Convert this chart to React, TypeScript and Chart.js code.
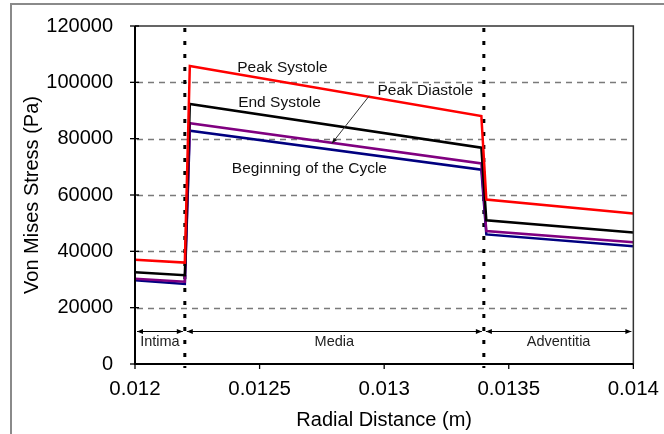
import { useEffect, useRef } from 'react';
import { Chart, registerables } from 'chart.js';

Chart.register(...registerables);

// Radial positions through the arterial wall (m)
const radialDistance = [0.012, 0.0122, 0.01222, 0.01339, 0.01341, 0.014];

// Von Mises stress (Pa) at each radial position, per cardiac phase
const peakSystole = [37000, 36000, 105800, 88000, 58400, 53400];
const endSystole = [32600, 31500, 92300, 76800, 51000, 46700];
const peakDiastole = [30300, 29200, 85500, 71200, 47200, 43200];
const beginningOfCycle = [29700, 28400, 82800, 69000, 46000, 41800];

const xTicks = [0.012, 0.0125, 0.013, 0.0135, 0.014];
const yTicks = [0, 20000, 40000, 60000, 80000, 100000, 120000];

// Wall layers and their boundaries
const layerBounds = [0.012, 0.0122, 0.0134, 0.014];
const layerNames = ['Intima', 'Media', 'Adventitia'];

const seriesNames = ['Peak Systole', 'End Systole', 'Peak Diastole', 'Beginning of the Cycle'];
const seriesColors = ['#ff0000', '#000000', '#800080', '#000080'];
// Label anchor points in data units (x, y)
const labelAnchors = [
  [0.012592, 105100],
  [0.01258, 92800],
  [0.013165, 97000],
  [0.0127, 69400],
];

const FONT = '"Liberation Sans", Arial, sans-serif';

const toPoints = (ys: number[]) => radialDistance.map((x, i) => ({ x, y: ys[i] }));

const decorPlugin = {
  id: 'wallDecor',
  beforeDatasetsDraw(chart: any) {
    const { ctx, chartArea: a, scales } = chart;
    const xs = scales.x;
    const ys = scales.y;
    ctx.save();
    // dashed grid lines
    ctx.strokeStyle = '#7a7a7a';
    ctx.lineWidth = 1.3;
    ctx.setLineDash([6, 5]);
    yTicks.slice(1, -1).forEach((v) => {
      const py = Math.round(ys.getPixelForValue(v)) + 0.5;
      ctx.beginPath();
      ctx.moveTo(a.left + 2, py);
      ctx.lineTo(a.right - 3, py);
      ctx.stroke();
    });
    // layer boundaries
    ctx.strokeStyle = '#000';
    ctx.lineWidth = 3;
    ctx.setLineDash([4, 9]);
    [layerBounds[1], layerBounds[2]].forEach((v) => {
      const px = xs.getPixelForValue(v);
      ctx.beginPath();
      ctx.moveTo(px, a.top + 2);
      ctx.lineTo(px, a.bottom + 4);
      ctx.stroke();
    });
    ctx.setLineDash([]);
    // layer span arrows
    const ay = a.bottom - 32.5;
    ctx.lineWidth = 1;
    ctx.strokeStyle = '#000';
    ctx.fillStyle = '#000';
    for (let i = 0; i < layerNames.length; i++) {
      const x0 = xs.getPixelForValue(layerBounds[i]) + 2;
      const x1 = xs.getPixelForValue(layerBounds[i + 1]) - 2;
      ctx.beginPath();
      ctx.moveTo(x0, ay);
      ctx.lineTo(x1, ay);
      ctx.stroke();
      for (const [tip, dir] of [[x0, 1], [x1, -1]]) {
        ctx.beginPath();
        ctx.moveTo(tip, ay);
        ctx.lineTo(tip + dir * 6, ay - 2.5);
        ctx.lineTo(tip + dir * 6, ay + 2.5);
        ctx.closePath();
        ctx.fill();
      }
      ctx.font = `14.5px ${FONT}`;
      ctx.fillStyle = '#222';
      ctx.textAlign = 'center';
      ctx.textBaseline = 'middle';
      ctx.fillText(layerNames[i], (x0 + x1) / 2, ay + 10.5);
      ctx.fillStyle = '#000';
    }
    ctx.restore();
  },
  afterDatasetsDraw(chart: any) {
    const { ctx, chartArea: a, scales } = chart;
    const xs = scales.x;
    const ys = scales.y;
    ctx.save();
    // plot frame
    ctx.strokeStyle = '#333';
    ctx.lineWidth = 1.5;
    ctx.beginPath();
    ctx.moveTo(a.left, a.top);
    ctx.lineTo(a.right, a.top);
    ctx.lineTo(a.right, a.bottom);
    ctx.stroke();
    ctx.strokeStyle = '#000';
    ctx.lineWidth = 2;
    ctx.beginPath();
    ctx.moveTo(a.left, a.top);
    ctx.lineTo(a.left, a.bottom);
    ctx.lineTo(a.right, a.bottom);
    ctx.stroke();
    // tick marks
    ctx.lineWidth = 1.3;
    yTicks.forEach((v) => {
      const py = ys.getPixelForValue(v);
      ctx.beginPath();
      ctx.moveTo(a.left - 5, py);
      ctx.lineTo(a.left + 4, py);
      ctx.stroke();
    });
    xTicks.forEach((v) => {
      const px = xs.getPixelForValue(v);
      ctx.beginPath();
      ctx.moveTo(px, a.bottom);
      ctx.lineTo(px, a.bottom + 5);
      ctx.stroke();
    });
    // series labels
    ctx.font = `15.5px ${FONT}`;
    ctx.fillStyle = '#111';
    ctx.textAlign = 'center';
    ctx.textBaseline = 'middle';
    seriesNames.forEach((name, i) => {
      const [lx, ly] = labelAnchors[i];
      ctx.fillText(name, xs.getPixelForValue(lx), ys.getPixelForValue(ly));
    });
    // leader from the Peak Diastole label to its line
    const sx = xs.getPixelForValue(0.01294);
    const sy = ys.getPixelForValue(95200);
    const ex = xs.getPixelForValue(0.01279);
    const ey = ys.getPixelForValue(78300);
    ctx.strokeStyle = '#333';
    ctx.lineWidth = 1;
    ctx.beginPath();
    ctx.moveTo(sx, sy);
    ctx.lineTo(ex, ey);
    ctx.stroke();
    const ang = Math.atan2(ey - sy, ex - sx);
    ctx.fillStyle = '#111';
    ctx.beginPath();
    ctx.moveTo(ex, ey);
    ctx.lineTo(ex - 6 * Math.cos(ang - 0.35), ey - 6 * Math.sin(ang - 0.35));
    ctx.lineTo(ex - 6 * Math.cos(ang + 0.35), ey - 6 * Math.sin(ang + 0.35));
    ctx.closePath();
    ctx.fill();
    ctx.restore();
  },
  afterDraw(chart: any) {
    const { ctx } = chart;
    ctx.save();
    ctx.strokeStyle = '#8a8a8a';
    ctx.lineWidth = 2;
    ctx.strokeRect(11, 4, 800, 600);
    ctx.restore();
  },
};

export default function App() {
  const canvasRef = useRef<HTMLCanvasElement>(null);

  useEffect(() => {
    const canvas = canvasRef.current;
    if (!canvas) return;
    const series = [peakSystole, endSystole, peakDiastole, beginningOfCycle];
    const chart = new Chart(canvas, {
      type: 'scatter',
      data: {
        datasets: series.map((ys, i) => ({
          label: seriesNames[i],
          data: toPoints(ys),
          showLine: true,
          borderColor: seriesColors[i],
          backgroundColor: seriesColors[i],
          borderWidth: 2.5,
          pointRadius: 0,
          tension: 0,
        })),
      },
      options: {
        responsive: false,
        animation: false,
        devicePixelRatio: 1,
        layout: { padding: { left: 0, top: 25, right: 28, bottom: 0 } },
        plugins: { legend: { display: false }, tooltip: { enabled: false } },
        scales: {
          x: {
            type: 'linear',
            min: 0.012,
            max: 0.014,
            grid: { display: false },
            border: { display: false },
            afterBuildTicks: (s: any) => {
              s.ticks = xTicks.map((value) => ({ value }));
            },
            afterFit: (s: any) => {
              s.height = 70;
            },
            ticks: {
              padding: 5,
              color: '#000',
              font: { family: FONT, size: 20.5 },
              maxRotation: 0,
              callback: (v: any) => String(v),
            },
            title: {
              display: true,
              text: 'Radial Distance (m)',
              color: '#000',
              font: { family: FONT, size: 20 },
              padding: { top: 0, bottom: 2 },
            },
          },
          y: {
            type: 'linear',
            min: 0,
            max: 120000,
            grid: { display: false },
            border: { display: false },
            afterBuildTicks: (s: any) => {
              s.ticks = yTicks.map((value) => ({ value }));
            },
            afterFit: (s: any) => {
              s.width = 135;
            },
            ticks: {
              padding: 14,
              color: '#000',
              font: { family: FONT, size: 20 },
              callback: (v: any) => String(v),
            },
            title: {
              display: true,
              text: 'Von Mises Stress (Pa)',
              color: '#000',
              font: { family: FONT, size: 20 },
              padding: { top: 20, bottom: 0 },
            },
          },
        },
      },
      plugins: [decorPlugin],
    });
    return () => chart.destroy();
  }, []);

  return (
    <div style={{ position: 'fixed', left: 0, top: 0, width: 664, height: 434, background: '#fff' }}>
      <canvas ref={canvasRef} width={664} height={434} />
    </div>
  );
}
